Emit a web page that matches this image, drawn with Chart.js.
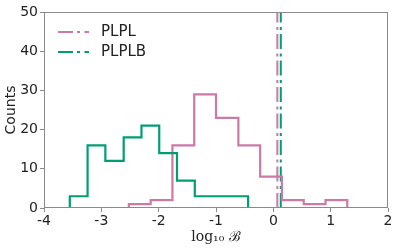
<!DOCTYPE html>
<html>
<head>
<meta charset="utf-8">
<script src="https://cdn.jsdelivr.net/npm/chart.js@4"></script>
<style>
  html, body { margin: 0; padding: 0; background: #fff; }
  #wrap { width: 399px; height: 249px; }
</style>
</head>
<body>
<div id="wrap"><canvas id="chart" width="399" height="249"></canvas></div>
<script>
// histogram bin edges and counts
const edgesPLPL = [-2.52, -2.14, -1.76, -1.38, -1.00, -0.61, -0.23, 0.15, 0.53, 0.91, 1.29];
const countsPLPL = [1, 2, 16, 29, 23, 16, 8, 2, 1, 2];
const edgesPLPLB = [-3.55, -3.24, -2.93, -2.61, -2.30, -1.99, -1.68, -1.37, -1.06, -0.75, -0.44];
const countsPLPLB = [3, 16, 12, 18, 21, 14, 7, 3, 3, 3];
const lineAtPLPL = 0.07;
const lineAtPLPLB = 0.13;
const xTicks = [-4, -3, -2, -1, 0, 1, 2];
const yTicks = [0, 10, 20, 30, 40, 50];

const pink = '#CC79A7';
const green = '#009E73';
const dashDot = [15, 4, 3, 4.5];

// outline of a step histogram
function stepPoints(edges, counts) {
    const pts = [{ x: edges[0], y: 0 }];
    counts.forEach((c, i) => {
        pts.push({ x: edges[i], y: c });
        pts.push({ x: edges[i + 1], y: c });
    });
    pts.push({ x: edges[edges.length - 1], y: 0 });
    return pts;
}

const frame = {
    id: 'frame',
    afterDraw(chart) {
        const { ctx, chartArea: a } = chart;
        ctx.save();
        ctx.strokeStyle = '#8a8a8a';
        ctx.lineWidth = 1;
        ctx.strokeRect(a.left + 0.5, a.top + 0.5, a.right - a.left - 1, a.bottom - a.top - 1);

        // legend in the upper left corner
        const items = [['PLPL', pink], ['PLPLB', green]];
        ctx.font = '15px "DejaVu Sans"';
        ctx.textBaseline = 'middle';
        items.forEach(([label, color], i) => {
            const y = 32 + i * 20;
            ctx.strokeStyle = color;
            ctx.lineWidth = 2;
            ctx.setLineDash(dashDot);
            ctx.beginPath();
            ctx.moveTo(58, y);
            ctx.lineTo(89, y);
            ctx.stroke();
            ctx.setLineDash([]);
            ctx.fillStyle = '#222';
            ctx.fillText(label, 101, y);
        });
        ctx.restore();
    }
};

new Chart(document.querySelector('#chart').getContext('2d'), {
    type: 'line',
    data: {
        datasets: [
            {
                label: 'PLPLB hist',
                data: stepPoints(edgesPLPLB, countsPLPLB),
                borderColor: green,
                borderWidth: 2.2
            },
            {
                label: 'PLPL hist',
                data: stepPoints(edgesPLPL, countsPLPL),
                borderColor: pink,
                borderWidth: 2.2
            },
            {
                label: 'PLPL',
                data: [{ x: lineAtPLPL, y: 0 }, { x: lineAtPLPL, y: 50 }],
                borderColor: pink,
                borderWidth: 2,
                borderDash: dashDot
            },
            {
                label: 'PLPLB',
                data: [{ x: lineAtPLPLB, y: 0 }, { x: lineAtPLPLB, y: 50 }],
                borderColor: green,
                borderWidth: 2,
                borderDash: dashDot
            }
        ]
    },
    options: {
        responsive: false,
        animation: false,
        layout: { padding: { top: 12, right: 11, left: 0, bottom: 0 } },
        elements: { point: { radius: 0 }, line: { tension: 0, borderCapStyle: 'butt' } },
        plugins: { legend: { display: false }, tooltip: { enabled: false } },
        scales: {
            x: {
                type: 'linear',
                min: -4,
                max: 2,
                afterFit: s => { s.height = 41; },
                afterBuildTicks: s => { s.ticks = xTicks.map(v => ({ value: v })); },
                border: { display: false },
                grid: { drawOnChartArea: false, drawTicks: true, tickLength: 4, color: '#8a8a8a' },
                ticks: { padding: 1, color: '#222', font: { family: 'DejaVu Sans', size: 14 }, maxRotation: 0 },
                title: {
                    display: true,
                    text: 'log\u2081\u2080 \u212C',
                    color: '#222',
                    font: { family: 'DejaVu Serif', size: 14 },
                    padding: { top: 0, bottom: 3 }
                }
            },
            y: {
                min: 0,
                max: 50,
                afterFit: s => { s.width = 44; },
                afterBuildTicks: s => { s.ticks = yTicks.map(v => ({ value: v })); },
                border: { display: false },
                grid: { drawOnChartArea: false, drawTicks: true, tickLength: 4, color: '#8a8a8a' },
                ticks: { padding: 2, color: '#222', font: { family: 'DejaVu Sans', size: 14 } },
                title: {
                    display: true,
                    text: 'Counts',
                    color: '#222',
                    font: { family: 'DejaVu Sans', size: 14 },
                    padding: { top: 3, bottom: 0 }
                }
            }
        }
    },
    plugins: [frame]
});
</script>
</body>
</html>
